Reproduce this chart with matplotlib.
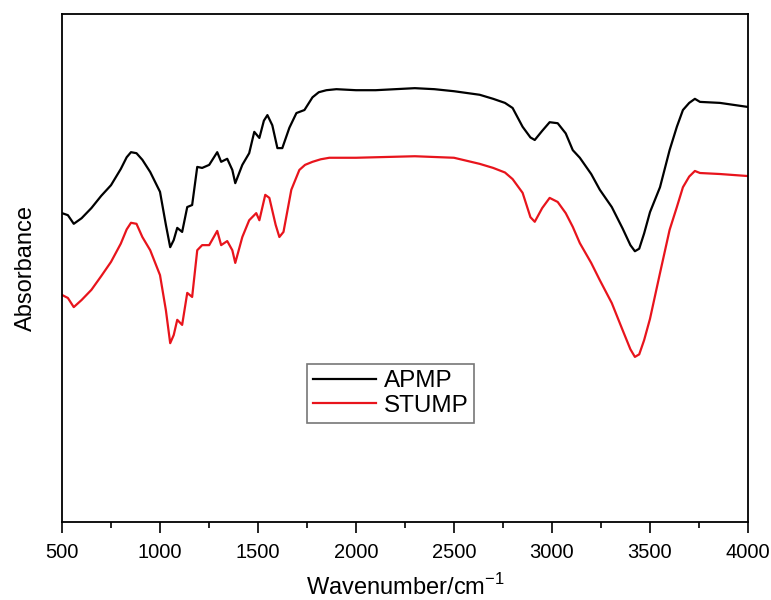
import numpy as np
import matplotlib
matplotlib.use('Agg')
import matplotlib.pyplot as plt
from matplotlib.ticker import MultipleLocator

plt.rcParams['font.family'] = ['Liberation Sans', 'DejaVu Sans']

# APMP spectrum (wavenumber, absorbance in arbitrary units)
wn_apmp = [500, 530, 560, 600, 650, 700, 750, 800, 830, 852, 880, 910, 950, 1000, 1030,
           1052, 1070, 1088, 1113, 1139, 1164, 1190, 1215, 1251, 1292, 1312, 1343,
           1369, 1384, 1420, 1455, 1481, 1507, 1530, 1548, 1573, 1599, 1624, 1660, 1696,
           1737, 1778, 1810, 1849, 1900, 2000, 2100, 2200, 2300, 2400, 2500, 2631, 2700,
           2760, 2799, 2850, 2890, 2912, 2950, 2988, 3029, 3070, 3106, 3142, 3200, 3244,
           3305, 3360, 3400, 3423, 3445, 3470, 3500, 3551, 3600, 3637, 3668, 3700, 3729,
           3755, 3857, 4000]
ab_apmp = [0.608, 0.604, 0.587, 0.598, 0.618, 0.642, 0.663, 0.695, 0.718, 0.728, 0.726,
           0.713, 0.689, 0.650, 0.585, 0.541, 0.555, 0.579, 0.571, 0.620, 0.624,
           0.699, 0.697, 0.703, 0.728, 0.709, 0.715, 0.693, 0.667, 0.703, 0.726,
           0.768, 0.756, 0.790, 0.801, 0.781, 0.736, 0.736, 0.776, 0.805, 0.811, 0.836,
           0.846, 0.850, 0.852, 0.850, 0.850, 0.852, 0.854, 0.852, 0.848, 0.841, 0.833,
           0.825, 0.815, 0.778, 0.757, 0.752, 0.770, 0.787, 0.785, 0.765, 0.732, 0.717,
           0.685, 0.654, 0.620, 0.578, 0.545, 0.533, 0.538, 0.568, 0.610, 0.659, 0.732,
           0.778, 0.811, 0.825, 0.833, 0.827, 0.825, 0.817]

# STUMP spectrum
wn_stump = [500, 530, 560, 600, 650, 700, 750, 800, 830, 852, 880, 910, 950, 1000, 1030,
            1052, 1070, 1088, 1113, 1139, 1164, 1190, 1215, 1251, 1292, 1312, 1343,
            1369, 1384, 1420, 1455, 1491, 1507, 1537, 1558, 1590, 1609, 1630, 1670,
            1711, 1740, 1778, 1820, 1864, 2000, 2200, 2300, 2500, 2631, 2700, 2760, 2799,
            2850, 2890, 2912, 2950, 2988, 3029, 3070, 3106, 3142, 3200, 3244, 3305, 3360,
            3400, 3423, 3445, 3470, 3500, 3551, 3600, 3637, 3668, 3700, 3729, 3755,
            3857, 4000]
ab_stump = [0.447, 0.441, 0.423, 0.437, 0.457, 0.484, 0.512, 0.548, 0.576, 0.589, 0.587,
            0.561, 0.535, 0.486, 0.417, 0.352, 0.368, 0.398, 0.388, 0.451, 0.443,
            0.535, 0.545, 0.545, 0.573, 0.545, 0.553, 0.535, 0.510, 0.561, 0.594,
            0.608, 0.594, 0.644, 0.638, 0.585, 0.561, 0.571, 0.654, 0.693, 0.703, 0.709,
            0.714, 0.717, 0.717, 0.719, 0.720, 0.717, 0.705, 0.697, 0.688, 0.675,
            0.648, 0.600, 0.591, 0.618, 0.638, 0.630, 0.608, 0.581, 0.549, 0.510, 0.476,
            0.431, 0.378, 0.340, 0.325, 0.330, 0.358, 0.400, 0.490, 0.575, 0.620, 0.659,
            0.680, 0.691, 0.687, 0.685, 0.681]

fig = plt.figure(figsize=(7.71, 6), dpi=100)
ax = fig.add_axes([62/771, 1 - 522/600, 686/771, 508/600])

ax.plot(wn_apmp, ab_apmp, color='black', lw=1.6, label='APMP')
ax.plot(wn_stump, ab_stump, color='#e8141c', lw=1.6, label='STUMP')

ax.set_xlim(500, 4000)
ax.set_ylim(0, 1)
ax.set_yticks([])
ax.xaxis.set_major_locator(MultipleLocator(500))
ax.xaxis.set_minor_locator(MultipleLocator(250))
ax.tick_params(axis='x', which='major', direction='out', length=8, width=1.2, labelsize=14.5, pad=7)
ax.tick_params(axis='x', which='minor', direction='out', length=4, width=1.2)
for s in ax.spines.values():
    s.set_linewidth(1.3)

ax.set_xlabel('Wavenumber/cm$^{\\mathregular{-1}}$', fontsize=17, labelpad=9)
ax.set_ylabel('Absorbance', fontsize=17, labelpad=18)

leg = ax.legend(loc='lower left', bbox_to_anchor=(0.357, 0.195), fontsize=17.5,
                frameon=True, fancybox=False, handlelength=2.6, handletextpad=0.3,
                borderpad=0.25, labelspacing=0.1, borderaxespad=0)
leg.get_frame().set_edgecolor('#555555')
leg.get_frame().set_linewidth(1.2)

fig.savefig('out.png', dpi=100)
